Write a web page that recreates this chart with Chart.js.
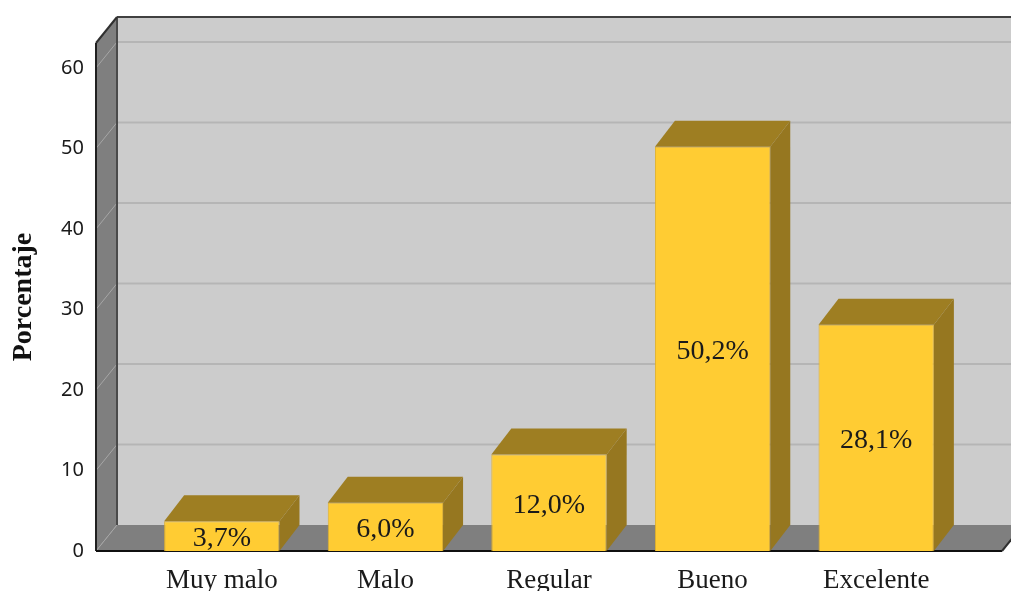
<!DOCTYPE html>
<html lang="es">
<head>
<meta charset="utf-8">
<title>Porcentaje</title>
<script src="https://cdn.jsdelivr.net/npm/chart.js@4"></script>
<style>
    html, body { margin: 0; padding: 0; background: #fff; overflow: hidden; }
    canvas { display: block; filter: blur(0.35px); }
</style>
</head>
<body>
<canvas id="grafico" width="1011" height="591"></canvas>
<script>
const categorias = ['Muy malo', 'Malo', 'Regular', 'Bueno', 'Excelente'];
const porcentajes = [3.7, 6.0, 12.0, 50.2, 28.1];
const etiquetas = ['3,7%', '6,0%', '12,0%', '50,2%', '28,1%'];
const marcasY = [0, 10, 20, 30, 40, 50, 60];

// Profundidad del efecto 3D y margen lateral del suelo
const fondoX = 21;
const fondoY = 26;
const fondoBarraX = 20;
const margenLateral = 44;

function poligono(ctx, puntos, color) {
    ctx.fillStyle = color;
    ctx.beginPath();
    puntos.forEach((p, i) => i ? ctx.lineTo(p[0], p[1]) : ctx.moveTo(p[0], p[1]));
    ctx.closePath();
    ctx.fill();
}

function linea(ctx, x1, y1, x2, y2, color, grosor) {
    ctx.strokeStyle = color;
    ctx.lineWidth = grosor;
    ctx.beginPath();
    ctx.moveTo(x1, y1);
    ctx.lineTo(x2, y2);
    ctx.stroke();
}

// Paredes, suelo y rejilla
const paredes = {
    id: 'paredes',
    beforeDatasetsDraw(chart) {
        const { ctx, chartArea, scales } = chart;
        const izq = chartArea.left - margenLateral;
        const der = chartArea.right + margenLateral;
        const arriba = chartArea.top;
        const abajo = chartArea.bottom;
        ctx.save();
        poligono(ctx, [[izq + fondoX, arriba - fondoY], [der + fondoX, arriba - fondoY], [der + fondoX, abajo - fondoY], [izq + fondoX, abajo - fondoY]], '#cccccc');
        poligono(ctx, [[izq, arriba], [izq + fondoX, arriba - fondoY], [izq + fondoX, abajo - fondoY], [izq, abajo]], '#7f7f7f');
        poligono(ctx, [[izq, abajo], [izq + fondoX, abajo - fondoY], [der + fondoX, abajo - fondoY], [der, abajo]], '#7f7f7f');

        marcasY.forEach(v => {
            const y = scales.y.getPixelForValue(v);
            if (v > 0) {
                linea(ctx, izq + fondoX, y - fondoY, der + fondoX, y - fondoY, '#b5b5b5', 2);
            }
            linea(ctx, izq, y, izq + fondoX, y - fondoY, '#a6a6a6', 1);
        });

        linea(ctx, izq + fondoX, abajo - fondoY, izq + fondoX, arriba - fondoY, '#4a4a4a', 2);
        linea(ctx, izq + fondoX, arriba - fondoY, der + fondoX, arriba - fondoY, '#404040', 2);
        linea(ctx, izq, arriba, izq + fondoX, arriba - fondoY, '#303030', 2);
        linea(ctx, izq, arriba, izq, abajo, '#202020', 2);
        linea(ctx, izq, abajo, der, abajo, '#101010', 2);
        linea(ctx, der, abajo, der + fondoX, abajo - fondoY, '#303030', 2);
        ctx.restore();
    }
};

// Caras superior y lateral de cada barra, y sus etiquetas
const barras3d = {
    id: 'barras3d',
    afterDatasetsDraw(chart) {
        const { ctx, chartArea } = chart;
        ctx.save();
        chart.getDatasetMeta(0).data.forEach((barra, i) => {
            const izq = barra.x - barra.width / 2;
            const der = barra.x + barra.width / 2;
            poligono(ctx, [[izq, barra.y], [izq + fondoBarraX, barra.y - fondoY], [der + fondoBarraX, barra.y - fondoY], [der, barra.y]], '#9e7e22');
            poligono(ctx, [[der, barra.y], [der + fondoBarraX, barra.y - fondoY], [der + fondoBarraX, chartArea.bottom - fondoY], [der, chartArea.bottom]], '#967720');

            ctx.fillStyle = '#1a1a1a';
            ctx.font = '28px "Liberation Serif"';
            ctx.textAlign = 'center';
            ctx.textBaseline = 'middle';
            ctx.fillText(etiquetas[i], barra.x, (barra.y + chartArea.bottom) / 2 + 3);
        });
        ctx.restore();
    }
};

new Chart(document.getElementById('grafico'), {
    type: 'bar',
    data: {
        labels: categorias,
        datasets: [{
            data: porcentajes,
            backgroundColor: '#ffcc33',
            borderColor: '#e0b02e',
            borderWidth: 1,
            barPercentage: 0.705,
            categoryPercentage: 1
        }]
    },
    options: {
        responsive: false,
        animation: false,
        layout: { padding: { top: 43, right: 53 } },
        plugins: {
            legend: { display: false },
            tooltip: { enabled: false }
        },
        scales: {
            x: {
                grid: { display: false },
                border: { display: false },
                afterFit(scale) {
                    scale.height = 40;
                    scale.paddingLeft = 0;
                    scale.paddingRight = 0;
                },
                ticks: {
                    color: '#1a1a1a',
                    padding: 6,
                    maxRotation: 0,
                    autoSkip: false,
                    font: { family: '"Liberation Serif"', size: 27 }
                }
            },
            y: {
                min: 0,
                max: 63.1,
                afterFit(scale) {
                    scale.width = 140;
                    scale.paddingTop = 0;
                    scale.paddingBottom = 0;
                },
                afterBuildTicks(scale) { scale.ticks = marcasY.map(value => ({ value })); },
                grid: { display: false },
                border: { display: false },
                ticks: {
                    color: '#1a1a1a',
                    padding: 48,
                    font: { family: '"Noto Sans"', size: 20 }
                },
                title: {
                    display: true,
                    text: 'Porcentaje',
                    color: '#111111',
                    padding: { top: 7, bottom: 0 },
                    font: { family: '"Liberation Serif"', size: 28, weight: 'bold' }
                }
            }
        }
    },
    plugins: [paredes, barras3d]
});
</script>
</body>
</html>
